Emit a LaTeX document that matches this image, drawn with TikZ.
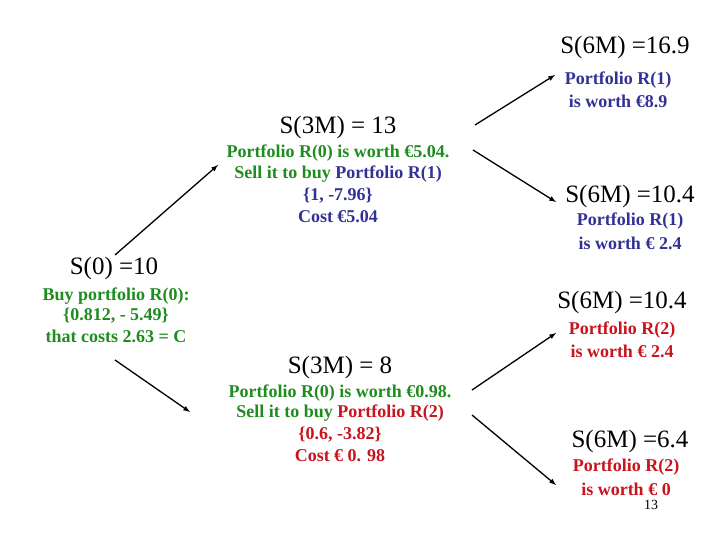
\documentclass[tikz,border=0pt]{standalone}
\usepackage{fontspec}
\setmainfont{Liberation Serif}
\definecolor{gr}{RGB}{30,140,30}
\definecolor{bl}{RGB}{50,50,150}
\definecolor{rd}{RGB}{200,20,30}
\tikzset{
 big/.style={font=\fontsize{25}{28}\selectfont, inner sep=0pt},
 sm/.style={font=\fontsize{18}{20}\selectfont\bfseries, inner sep=0pt},
 arr/.style={-latex, line width=1.3pt},
}
\begin{document}
\begin{tikzpicture}[x=1pt,y=-1pt]
\useasboundingbox (0,0) rectangle (720,540);
% top right
\node[big] (a) at (625,47) {S(6M) =16.9};
\node[sm,bl] (a1) at (618,80) {Portfolio R(1)};
\node[sm,bl] (a2) at (618,101) {is worth €8.9};
% upper middle
\node[big] (u) at (338,127) {S(3M) = 13};
\node[sm,gr] (u1) at (338,153) {Portfolio R(0) is worth €5.04.};
\node[sm,gr] (u2) at (338,174) {Sell it to buy \textcolor{bl}{Portfolio R(1)}};
\node[sm,bl] (u3) at (338,196) {\{1, -7.96\}};
\node[sm,bl] (u4) at (338,217) {Cost €5.04};
% right second
\node[big] (b) at (630,196) {S(6M) =10.4};
\node[sm,bl] (b1) at (630,221) {Portfolio R(1)};
\node[sm,bl] (b2) at (630,243) {is worth € 2.4};
% root
\node[big] (r) at (114,268) {S(0) =10};
\node[sm,gr] (r1) at (116,296) {Buy portfolio R(0):};
\node[sm,gr] (r2) at (116,316) {\{0.812, - 5.49\}};
\node[sm,gr] (r3) at (116,336) {that costs 2.63 = C};
% right third
\node[big] (c) at (622,302) {S(6M) =10.4};
\node[sm,rd] (c1) at (622,330) {Portfolio R(2)};
\node[sm,rd] (c2) at (622,351) {is worth € 2.4};
% lower middle
\node[big] (l) at (340,367) {S(3M) = 8};
\node[sm,gr] (l1) at (340,393) {Portfolio R(0) is worth €0.98.};
\node[sm,gr] (l2) at (340,413) {Sell it to buy \textcolor{rd}{Portfolio R(2)}};
\node[sm,rd] (l3) at (340,435) {\{0.6, -3.82\}};
\node[sm,rd] (l4) at (340,456) {Cost € 0. 98};
% bottom right
\node[big] (d) at (630,441) {S(6M) =6.4};
\node[sm,rd] (d1) at (626,467) {Portfolio R(2)};
\node[sm,rd] (d2) at (626,489) {is worth € 0};
\node[font=\fontsize{14}{15}\selectfont, inner sep=0pt] (pg) at (651,505) {13};
% arrows
\coordinate (s1) at (115,255); \coordinate (e1) at (218,165);
\coordinate (s2) at (115,360); \coordinate (e2) at (190,412);
\coordinate (s3) at (475,125); \coordinate (e3) at (555,75);
\coordinate (s4) at (473,150); \coordinate (e4) at (556,202);
\coordinate (s5) at (472,390); \coordinate (e5) at (556,333);
\coordinate (s6) at (472,415); \coordinate (e6) at (556,485);
\draw[arr] (s1) -- (e1);
\draw[arr] (s2) -- (e2);
\draw[arr] (s3) -- (e3);
\draw[arr] (s4) -- (e4);
\draw[arr] (s5) -- (e5);
\draw[arr] (s6) -- (e6);
\end{tikzpicture}
\end{document}
